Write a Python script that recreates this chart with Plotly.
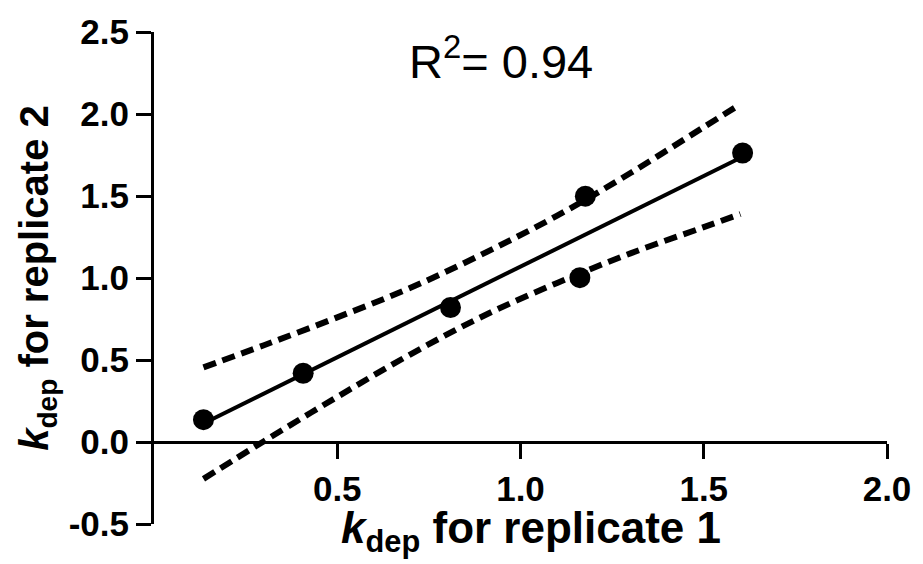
import plotly.graph_objects as go

# Data points (replicate 1 vs replicate 2)
rep1 = [0.135, 0.407, 0.809, 1.162, 1.177, 1.606]
rep2 = [0.136, 0.419, 0.820, 1.002, 1.499, 1.762]

# Fitted line end points
fit_x = [0.135, 1.606]
fit_y = [0.113, 1.739]

# 95% confidence band
band_x = [0.135, 0.3, 0.5, 0.7, 0.9, 1.1, 1.3, 1.5, 1.6]
band_upper = [0.455, 0.59, 0.76, 0.94, 1.15, 1.38, 1.64, 1.92, 2.06]
band_lower = [-0.225, 0.005, 0.275, 0.535, 0.77, 0.97, 1.15, 1.31, 1.39]

x_ticks = [0.5, 1.0, 1.5, 2.0]
y_ticks = [-0.5, 0.0, 0.5, 1.0, 1.5, 2.0, 2.5]
y_ticktext = ["-0.5", "0.0", "0.5", "1.0", "1.5", "2.0", "2.5"]
x_ticktext = ["0.5", "1.0", "1.5", "2.0"]

FONT = "Liberation Sans, Arial, sans-serif"

fig = go.Figure()
for yy in (band_upper, band_lower):
    fig.add_trace(go.Scatter(x=band_x, y=yy, mode="lines", line_shape="spline",
                             line=dict(color="black", width=6, dash="13px,7px"),
                             showlegend=False, hoverinfo="skip"))
fig.add_trace(go.Scatter(x=fit_x, y=fit_y, mode="lines",
                         line=dict(color="black", width=4), showlegend=False))
fig.add_trace(go.Scatter(x=rep1, y=rep2, mode="markers",
                         marker=dict(color="black", size=21), showlegend=False))

fig.add_annotation(x=0.946, y=2.34, xref="x", yref="y", text="R<sup>2</sup>= 0.94",
                   showarrow=False, font=dict(family=FONT, size=47, color="black"))

# x-axis title
fig.add_annotation(x=0.515, y=0, xref="paper", yref="paper", xanchor="center", yanchor="top",
                   yshift=23, showarrow=False,
                   text="<i>k</i><sub>dep</sub> for replicate 1",
                   font=dict(family=FONT, size=44, color="black", weight="bold"))

fig.update_layout(
    width=923, height=564,
    margin=dict(l=154, r=27, t=29, b=40),
    paper_bgcolor="white", plot_bgcolor="white",
    font=dict(family=FONT, color="black"),
    xaxis=dict(range=[0, 2.0], tickvals=x_ticks, ticktext=x_ticktext,
               anchor="free", position=1/6, showgrid=False, zeroline=False,
               showline=True, linecolor="black", linewidth=3,
               ticks="outside", ticklen=15, tickwidth=3, tickcolor="black",
               tickfont=dict(family=FONT, size=35, color="black", weight="bold")),
    yaxis=dict(range=[-0.5, 2.5], tickvals=y_ticks, ticktext=y_ticktext,
               showgrid=False, zeroline=False,
               showline=True, linecolor="black", linewidth=3,
               ticks="outside", ticklen=15, tickwidth=3, tickcolor="black",
               tickfont=dict(family=FONT, size=35, color="black", weight="bold"),
               title=dict(text="<i>k</i><sub>dep</sub> for replicate 2", standoff=8,
                          font=dict(family=FONT, size=40, color="black", weight="bold"))),
)

fig.write_html("out.html")
